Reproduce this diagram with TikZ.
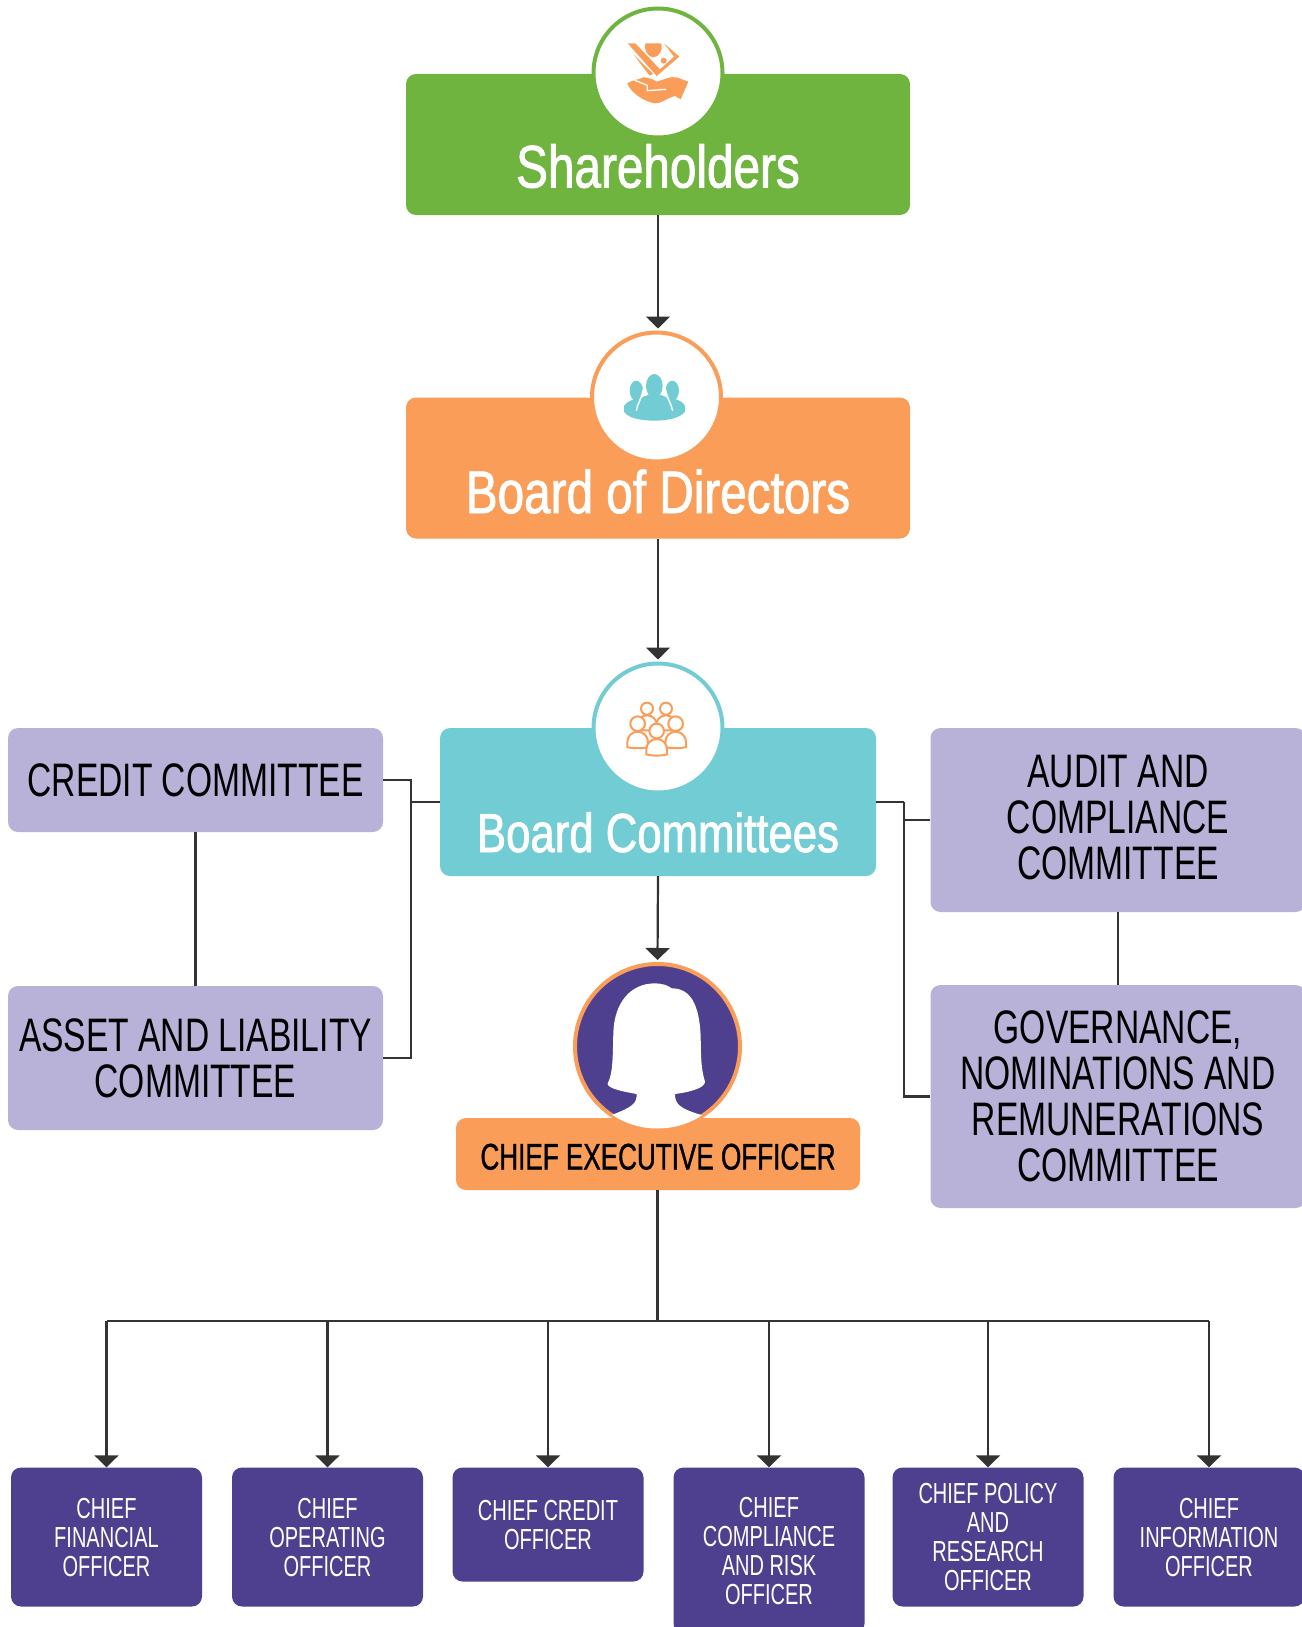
\documentclass[tikz,border=0pt]{standalone}
\usepackage{fontspec}
\setmainfont[FakeStretch=0.69]{Liberation Sans}
\newfontfamily\headfont[FakeStretch=0.795,FakeBold=1.4]{Liberation Sans}
\newfontfamily\ceofont[FakeStretch=0.705,FakeBold=1]{Liberation Sans}
\newfontfamily\lilacfont[FakeStretch=0.715]{Liberation Sans}
\usetikzlibrary{arrows.meta}
\definecolor{leafgreen}{HTML}{6EB43F}
\definecolor{softorange}{HTML}{FA9D58}
\definecolor{softteal}{HTML}{72CCD3}
\definecolor{softlilac}{HTML}{B8B2D9}
\definecolor{deeppurple}{HTML}{4F3F8F}
\definecolor{linegrey}{HTML}{333333}
\tikzset{
  headbox/.style={rounded corners=10pt, minimum width=504pt, minimum height=141pt, text=white, font=\headfont\fontsize{60}{64}\selectfont, text height=86pt, text depth=0pt, inner sep=0pt},
  ringnode/.style={circle, fill=white, line width=4pt, minimum size=129pt, inner sep=0pt},
  lilacbox/.style={fill=softlilac, rounded corners=10pt, minimum width=375pt, align=center, inner sep=0pt, text=black, font=\lilacfont\fontsize{47}{46}\selectfont},
  officer/.style={fill=deeppurple, rounded corners=10pt, minimum width=191pt, align=center, inner sep=0pt, text=white, font=\fontsize{29}{29}\selectfont},
  link/.style={draw=linegrey, line width=2.2pt},
  arrowlink/.style={link, shorten >=2pt, -{Triangle[length=12pt,width=24pt]}},
}
\begin{document}
\begin{tikzpicture}[x=1pt,y=-1pt]
\useasboundingbox (0,0) rectangle (1301,1627);
% top of the chart
\node[headbox, fill=leafgreen] (share) at (658,144.5) {Shareholders};
\node[ringnode, draw=leafgreen] (sharering) at (658,73) {};
\node[headbox, fill=softorange, text height=90pt] (board) at (658,468) {Board of Directors};
\node[ringnode, draw=softorange] (boardring) at (656.5,397) {};
\node[headbox, fill=softteal, minimum width=436pt, minimum height=148pt, text height=100pt, font=\headfont\fontsize{55}{60}\selectfont] (comm) at (658,802) {Board Committees};
\node[ringnode, draw=softteal] (commring) at (658,728) {};
% committees
\node[lilacbox, minimum height=104pt] (credit) at (195.5,780) {CREDIT COMMITTEE};
\node[lilacbox, minimum height=144pt] (asset) at (195.5,1058) {ASSET AND LIABILITY\\COMMITTEE};
\node[lilacbox, minimum height=184pt, text depth=6pt] (audit) at (1118,820) {AUDIT AND\\COMPLIANCE\\COMMITTEE};
\node[lilacbox, minimum height=223pt] (gov) at (1118,1096.5) {GOVERNANCE,\\NOMINATIONS AND\\REMUNERATIONS\\COMMITTEE};
% chief executive
\node[fill=softorange, rounded corners=10pt, minimum width=404pt, minimum height=72pt, inner sep=0pt, font=\ceofont\fontsize{37}{40}\selectfont, text=black, text height=31pt, text depth=0pt] (ceo) at (658,1154) {CHIEF EXECUTIVE OFFICER};
\node[circle, fill=deeppurple, draw=softorange, line width=4pt, minimum size=165pt, inner sep=0pt] (ceoring) at (657.5,1046.5) {};
\begin{scope}
\clip (ceoring.center) circle [radius=82];
\fill[white, shift={(540,940)}, scale=1/3] (345,130) .. controls (365,130) and (385,136) .. (395,145) .. controls (450,145) and (478,190) .. (482,290) .. controls (483,340) and (482,385) .. (495,425) .. controls (497,445) and (440,458) .. (405,462) .. controls (405,490) and (415,505) .. (485,525) -- (485,600) -- (215,600) -- (215,525) .. controls (280,500) and (290,490) .. (290,462) .. controls (250,455) and (200,445) .. (203,430) .. controls (220,400) and (218,340) .. (220,280) .. controls (222,190) and (270,130) .. (345,130) -- cycle;
\end{scope}
% officers
\node[officer, minimum height=139pt] (cfo) at (106.5,1537) {CHIEF\\FINANCIAL\\OFFICER};
\node[officer, minimum height=139pt] (coo) at (327.5,1537) {CHIEF\\OPERATING\\OFFICER};
\node[officer, minimum height=114pt] (cco) at (548,1524.5) {CHIEF CREDIT\\OFFICER};
\node[officer, minimum height=166pt] (ccro) at (769,1550.5) {CHIEF\\COMPLIANCE\\AND RISK\\OFFICER};
\node[officer, minimum height=139pt] (cpro) at (988,1537) {CHIEF POLICY\\AND\\RESEARCH\\OFFICER};
\node[officer, minimum height=139pt] (cio) at (1209,1537) {CHIEF\\INFORMATION\\OFFICER};
% connectors
\coordinate (leftbus) at (411,802);
\coordinate (rightbus) at (904,802);
\coordinate (lowbus) at (657.5,1321);
\draw[arrowlink] (share.south) -- (share.south |- boardring.north);
\draw[arrowlink] (board.south) -- (commring.north);
\draw[arrowlink] (comm.south) -- (ceoring.north);
\draw[link] (credit) -- (asset);
\draw[link] (audit) -- (gov);
\draw[link] (credit.east) -| (leftbus) |- (asset.east);
\draw[link] (leftbus) -- (comm.west);
\draw[link] (comm.east) -- (rightbus);
\draw[link] (audit.west) -| (rightbus) |- (gov.west);
\draw[link] (ceo.south -| lowbus) -- (lowbus);
\draw[link] (cfo.north |- lowbus) -- (cio.north |- lowbus);
\foreach \chief in {cfo,coo,cco,ccro,cpro,cio}
  \draw[arrowlink, shorten >=0pt] (\chief.north |- lowbus) -- (\chief.north);
% money in hand
\begin{scope}[shift={(560,0)},scale=1/3,fill=softorange]
\fill (203,130) -- (226,130) -- (300,208) -- (342,170) -- (312,130) -- (358,170) -- (290,228) -- cycle;
\fill (222,165) -- (280,222) -- (268,226) -- cycle;
\fill (256,130) .. controls (250,150) and (265,172) .. (280,172) .. controls (297,172) and (310,150) .. (304,130) -- cycle;
\fill (311,182) circle [radius=9];
\fill (202,250) .. controls (215,240) and (235,240) .. (250,232) .. controls (265,232) and (280,238) .. (290,245) .. controls (310,240) and (330,228) .. (350,232) -- (385,245) -- (362,298) -- (345,288) .. controls (320,295) and (300,312) .. (285,310) .. controls (250,305) and (210,275) .. (202,250) -- cycle;
\draw[white, line width=1.3pt] (222,240) -- (262,256) -- (262,272) -- (318,268);
\end{scope}
% board members
\begin{scope}[shift={(560,320)},scale=1/3]
\fill[softteal] (192,258) .. controls (200,245) and (215,240) .. (228,236) .. controls (240,240) and (330,240) .. (340,236) .. controls (355,240) and (370,245) .. (375,258) -- (375,275) .. controls (360,295) and (320,302) .. (283,302) .. controls (245,302) and (205,295) .. (192,275) -- cycle;
\fill[softteal] (229,212) ellipse [x radius=20, y radius=30];
\fill[softteal] (337,212) ellipse [x radius=20, y radius=30];
\fill[softteal] (283,198) ellipse [x radius=25, y radius=36];
\fill[softteal] (283,255) ellipse [x radius=52, y radius=32];
\draw[white, line width=1.5pt] (249,210) .. controls (246,235) and (232,250) .. (229,272);
\draw[white, line width=1.5pt] (317,210) .. controls (320,235) and (334,250) .. (338,272);
\end{scope}
% committee members
\begin{scope}[shift={(560,650)},scale=1/3,draw=softorange,fill=white,line width=2pt]
\foreach \px/\py/\pr in {261/176/18,318/176/18}{
  \filldraw (\px-30,\py+65) -- (\px-30,\py+50) arc [start angle=180, end angle=360, radius=30] -- (\px+30,\py+65) -- cycle;
  \filldraw (\px,\py) circle [radius=\pr];
}
\foreach \px/\py/\pr in {233/221/22,347/221/22,290/243/22}{
  \filldraw (\px-31,\py+70) -- (\px-31,\py+55) arc [start angle=180, end angle=360, radius=31] -- (\px+31,\py+70) .. controls (\px+15,\py+75) and (\px-15,\py+75) .. (\px-31,\py+70) -- cycle;
  \filldraw (\px,\py) circle [radius=\pr];
}
\end{scope}
\end{tikzpicture}
\end{document}
